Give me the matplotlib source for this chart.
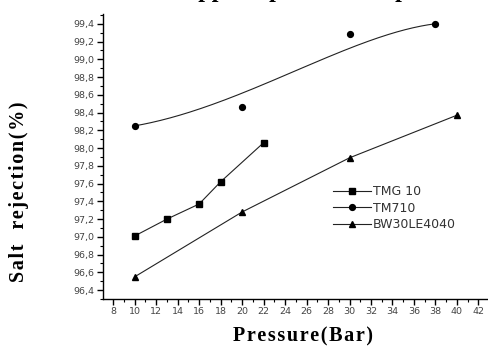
import numpy as np
import matplotlib
matplotlib.use("Agg")
import matplotlib.pyplot as plt
from matplotlib.ticker import MultipleLocator, FuncFormatter
from math import comb

# data
tmg_p = [10, 13, 16, 18, 22]
tmg_rej = [97.01, 97.20, 97.37, 97.62, 98.06]

tm710_p = [10, 20, 30, 38]
tm710_rej = [98.25, 98.46, 99.28, 99.40]

bw_p = [10, 20, 30, 40]
bw_rej = [96.55, 97.28, 97.89, 98.37]

title = "Effect of applied pressure on performance"
xlabel = "Pressure(Bar)"
ylabel = "Salt rejection(%)"


def bezier(xs, ys, n=200):
    # Origin-style B-spline: data points used as control points
    t = np.linspace(0, 1, n)
    k = len(xs) - 1
    bx = sum(comb(k, i) * (1 - t) ** (k - i) * t ** i * xs[i] for i in range(k + 1))
    by = sum(comb(k, i) * (1 - t) ** (k - i) * t ** i * ys[i] for i in range(k + 1))
    return bx, by


def spaced(s):
    # widen the letter spacing with hair spaces
    return "\u200a".join(s)


serif = ["Liberation Serif", "DejaVu Serif"]

fig = plt.figure(figsize=(4.88, 3.48), dpi=100)
ax = fig.add_axes([103 / 488, 1 - 299 / 348, 384 / 488, 285 / 348])

lc = "#222222"
ax.plot(tmg_p, tmg_rej, "-", color=lc, lw=0.8, marker="s", ms=4.2,
        mfc="black", mec="black", label="TMG 10")
bx, by = bezier(tm710_p, tm710_rej)
ax.plot(bx, by, "-", color=lc, lw=0.8)
ax.plot(tm710_p, tm710_rej, "o", ms=4.2, color="black")
ax.plot([], [], "-", color=lc, lw=0.8, marker="o", ms=4.2, mfc="black",
        mec="black", label="TM710")
ax.plot(bw_p, bw_rej, "-", color=lc, lw=0.8, marker="^", ms=4.6,
        mfc="black", mec="black", label="BW30LE4040")

ax.set_xlim(7.05, 42.8)
ax.set_ylim(96.3, 99.51)
ax.xaxis.set_major_locator(MultipleLocator(2))
ax.xaxis.set_minor_locator(MultipleLocator(1))
ax.yaxis.set_major_locator(MultipleLocator(0.2))
ax.yaxis.set_minor_locator(MultipleLocator(0.1))
ax.yaxis.set_major_formatter(FuncFormatter(lambda v, p: f"{v:.1f}".replace(".", ",")))

for s in ["top", "right"]:
    ax.spines[s].set_visible(False)
for s in ["left", "bottom"]:
    ax.spines[s].set_linewidth(1.0)
ax.tick_params(which="major", direction="out", length=4, width=1,
               labelsize=6.8, labelcolor="#444444", pad=2)
ax.tick_params(which="minor", direction="out", length=2.5, width=0.8)

fig.text(303 / 488, 1 - 336 / 348, spaced(xlabel), family=serif, fontweight="bold",
         fontsize=14.5, ha="center", va="center")
fig.text(19 / 488, 1 - 192 / 348, spaced(ylabel.replace(" ", "  ")), family=serif,
         fontweight="bold", fontsize=14.5, ha="center", va="center", rotation=90)

leg = ax.legend(loc="upper left", bbox_to_anchor=(0.60, 0.40), frameon=False,
                fontsize=9, handlelength=3.0, handletextpad=0.15,
                labelspacing=0.3, borderaxespad=0, borderpad=0)
for t in leg.get_texts():
    t.set_color("#333333")

fig.text(92 / 488, 1 + 3.5 / 348, title, family=serif,
         fontweight="bold", fontsize=17.5, ha="left", va="baseline")

fig.savefig("out.png", dpi=100)
